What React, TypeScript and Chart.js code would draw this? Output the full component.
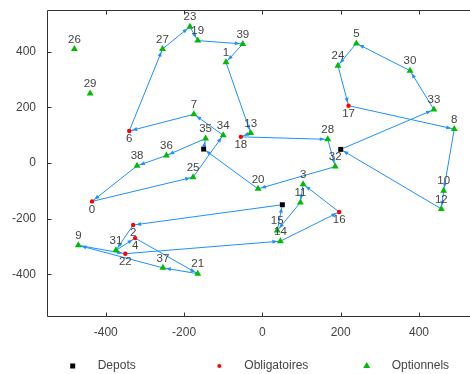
import React, { useEffect, useRef } from 'react';
import { Chart, registerables } from 'chart.js';

Chart.register(...registerables);

// ---- data ----
const NODE_X = [-435, -93, -330, 104, -325, 240, -340, -175, 490, -470, 463, 97, 457, -30, 46, 38, 196, 220, -55, -165, -11, -165, -350, -185, 193, -177, -480, -255, 167, -440, 377, -374, 186, 438, -100, -145, -245, -254, -320, -50];
const NODE_Y = [-138, 362, -223, -76, -270, 430, 115, 175, 122, -296, -100, -142, -165, 108, -281, -243, -176, 206, 94, 440, -93, -398, -326, 490, 350, -51, 410, 410, 85, 250, 332, -314, -13, 192, 100, 88, 27, -377, -10, 428];
// 'O' = obligatoire, 'P' = optionnel
const NODE_TYPE = ['O', 'P', 'O', 'P', 'O', 'P', 'O', 'P', 'P', 'P', 'P', 'P', 'P', 'P', 'P', 'P', 'O', 'O', 'O', 'P', 'P', 'P', 'O', 'P', 'P', 'P', 'P', 'P', 'P', 'P', 'P', 'P', 'P', 'P', 'P', 'P', 'P', 'P', 'P', 'P'];
const DEPOT_X = [-150, 200, 51];
const DEPOT_Y = [50, 49, -150];

const ROUTE_1 = ['D0', 35, 36, 38, 0, 25, 34, 7, 6, 27, 23, 19, 39, 1, 13, 18, 28, 32, 20, 'D0'];
const ROUTE_2 = ['D1', 33, 30, 5, 24, 17, 8, 10, 12, 'D1'];
const ROUTE_3 = ['D2', 2, 31, 4, 21, 37, 9, 22, 14, 16, 3, 11, 15, 'D2'];
const ROUTES = [ROUTE_1, ROUTE_2, ROUTE_3];

const X_TICKS = [-400, -200, 0, 200, 400];
const Y_TICKS = [-400, -200, 0, 200, 400];
const X_MIN = -550;
const X_MAX = 520;
const Y_MIN = -550;
const Y_MAX = 550;

const SERIES_NAMES = ['Depots', 'Obligatoires', 'Optionnels'];

const FONT = "'Liberation Sans', Arial, sans-serif";
const GREEN = '#00bb00';
const RED = '#ff0000';
const BLUE = '#1e90ff';
const TEXT = '#444444';
const FRAME = '#333333';

function nodePoint(id: any) {
  if (typeof id === 'string') {
    const k = parseInt(id.slice(1), 10);
    return { x: DEPOT_X[k], y: DEPOT_Y[k] };
  }
  return { x: NODE_X[id], y: NODE_Y[id] };
}

const framePlugin = {
  id: 'frame',
  beforeDatasetsDraw(chart: any) {
    const { ctx, chartArea } = chart;
    const xs = chart.scales.x;
    const ys = chart.scales.y;
    const l = Math.round(chartArea.left) + 0.5;
    const t = Math.round(chartArea.top) + 0.5;
    const b = Math.round(chartArea.bottom) + 0.5;
    const r = chart.width;
    ctx.save();
    ctx.strokeStyle = FRAME;
    ctx.lineWidth = 1;
    ctx.beginPath();
    ctx.moveTo(r, t);
    ctx.lineTo(l, t);
    ctx.lineTo(l, b);
    ctx.lineTo(r, b);
    X_TICKS.forEach((v) => {
      const px = Math.round(xs.getPixelForValue(v)) + 0.5;
      ctx.moveTo(px, t);
      ctx.lineTo(px, t + 4);
      ctx.moveTo(px, b);
      ctx.lineTo(px, b - 4);
    });
    Y_TICKS.forEach((v) => {
      const py = Math.round(ys.getPixelForValue(v)) + 0.5;
      ctx.moveTo(l, py);
      ctx.lineTo(l + 4, py);
    });
    ctx.stroke();
    ctx.restore();
  },
};

const arrowPlugin = {
  id: 'arrows',
  afterDatasetDraw(chart: any, args: any) {
    const ds = chart.data.datasets[args.index];
    if (!ds.isRoute) return;
    const pts = args.meta.data;
    const ctx = chart.ctx;
    ctx.save();
    ctx.fillStyle = BLUE;
    for (let i = 1; i < pts.length; i++) {
      const a = pts[i - 1];
      const c = pts[i];
      const dx = c.x - a.x;
      const dy = c.y - a.y;
      const len = Math.hypot(dx, dy);
      if (len < 1) continue;
      const ux = dx / len;
      const uy = dy / len;
      const tipx = c.x - ux * 3;
      const tipy = c.y - uy * 3;
      const bx = tipx - ux * 5;
      const by = tipy - uy * 5;
      ctx.beginPath();
      ctx.moveTo(tipx, tipy);
      ctx.lineTo(bx - uy * 2, by + ux * 2);
      ctx.lineTo(bx + uy * 2, by - ux * 2);
      ctx.closePath();
      ctx.fill();
    }
    ctx.restore();
  },
};

const labelPlugin = {
  id: 'nodeLabels',
  afterDatasetsDraw(chart: any) {
    const ctx = chart.ctx;
    ctx.save();
    ctx.font = `11.5px ${FONT}`;
    ctx.fillStyle = TEXT;
    ctx.textAlign = 'center';
    ctx.textBaseline = 'middle';
    chart.data.datasets.forEach((ds: any, di: number) => {
      if (!ds.nodeKind) return;
      const meta = chart.getDatasetMeta(di);
      meta.data.forEach((el: any, i: number) => {
        const id = ds.data[i].id;
        const dy = ds.nodeKind === 'O' ? 8 : -9.5;
        ctx.fillText(String(id), el.x, el.y + dy);
      });
    });
    ctx.restore();
  },
};

const legendPlugin = {
  id: 'customLegend',
  afterDraw(chart: any) {
    const ctx = chart.ctx;
    const y = 366;
    const markerX = [72.7, 219.3, 366.7];
    ctx.save();
    ctx.fillStyle = '#000000';
    ctx.fillRect(markerX[0] - 2.5, y - 2.5, 5, 5);
    ctx.fillStyle = RED;
    ctx.beginPath();
    ctx.arc(markerX[1], y, 2, 0, Math.PI * 2);
    ctx.fill();
    ctx.fillStyle = GREEN;
    ctx.beginPath();
    ctx.moveTo(markerX[2], y - 4);
    ctx.lineTo(markerX[2] + 3.5, y + 2);
    ctx.lineTo(markerX[2] - 3.5, y + 2);
    ctx.closePath();
    ctx.fill();
    ctx.font = `12px ${FONT}`;
    ctx.fillStyle = TEXT;
    ctx.textAlign = 'left';
    ctx.textBaseline = 'middle';
    SERIES_NAMES.forEach((name, i) => {
      ctx.fillText(name, markerX[i] + 25, y);
    });
    ctx.restore();
  },
};

export default function App() {
  const ref = useRef<HTMLCanvasElement>(null);

  useEffect(() => {
    if (!ref.current) return;

    const depotData = DEPOT_X.map((x, i) => ({ x, y: DEPOT_Y[i] }));
    const oblData: any[] = [];
    const optData: any[] = [];
    NODE_X.forEach((x, i) => {
      const p = { x, y: NODE_Y[i], id: i };
      if (NODE_TYPE[i] === 'O') oblData.push(p);
      else optData.push(p);
    });

    const routeSets = ROUTES.map((r) => ({
      label: 'route',
      isRoute: true,
      data: r.map((id) => nodePoint(id)),
      showLine: true,
      borderColor: BLUE,
      borderWidth: 1,
      pointRadius: 0,
      pointHoverRadius: 0,
      fill: false,
      tension: 0,
      order: 5,
    }));

    const chart = new Chart(ref.current, {
      type: 'scatter',
      data: {
        datasets: [
          ...routeSets,
          {
            label: SERIES_NAMES[0],
            data: depotData,
            pointStyle: 'rect',
            pointRadius: 3.5,
            backgroundColor: '#000000',
            borderColor: '#000000',
            borderWidth: 0,
            order: 1,
          },
          {
            label: SERIES_NAMES[1],
            nodeKind: 'O',
            data: oblData,
            pointStyle: 'circle',
            pointRadius: 2.2,
            backgroundColor: RED,
            borderColor: RED,
            borderWidth: 0,
            order: 1,
          },
          {
            label: SERIES_NAMES[2],
            nodeKind: 'P',
            data: optData,
            pointStyle: 'triangle',
            pointRadius: 4,
            backgroundColor: GREEN,
            borderColor: GREEN,
            borderWidth: 0,
            order: 1,
          },
        ] as any,
      },
      options: {
        animation: false,
        responsive: false,
        layout: { padding: { top: 10, left: 0, right: 0, bottom: 0 } },
        plugins: {
          legend: { display: false },
          tooltip: { enabled: false },
        },
        scales: {
          x: {
            type: 'linear',
            min: X_MIN,
            max: X_MAX,
            grid: { display: false, drawTicks: false },
            border: { display: false },
            afterBuildTicks: (s: any) => {
              s.ticks = X_TICKS.map((v) => ({ value: v }));
            },
            afterFit: (s: any) => {
              s.height = 58;
              s.paddingLeft = 0;
              s.paddingRight = 0;
            },
            ticks: {
              padding: 9,
              color: TEXT,
              font: { family: FONT, size: 12 },
              maxRotation: 0,
            },
          },
          y: {
            type: 'linear',
            min: Y_MIN,
            max: Y_MAX,
            grid: { display: false, drawTicks: false },
            border: { display: false },
            afterBuildTicks: (s: any) => {
              s.ticks = Y_TICKS.map((v) => ({ value: v }));
            },
            afterFit: (s: any) => {
              s.width = 47;
              s.paddingTop = 0;
              s.paddingBottom = 0;
            },
            ticks: {
              padding: 11,
              color: TEXT,
              font: { family: FONT, size: 12 },
            },
          },
        },
      } as any,
      plugins: [framePlugin, arrowPlugin, labelPlugin, legendPlugin],
    });

    return () => chart.destroy();
  }, []);

  return (
    <div style={{ position: 'absolute', left: 0, top: 0, width: 470, height: 374, background: '#ffffff' }}>
      <canvas ref={ref} width={470} height={374} style={{ display: 'block' }} />
    </div>
  );
}
